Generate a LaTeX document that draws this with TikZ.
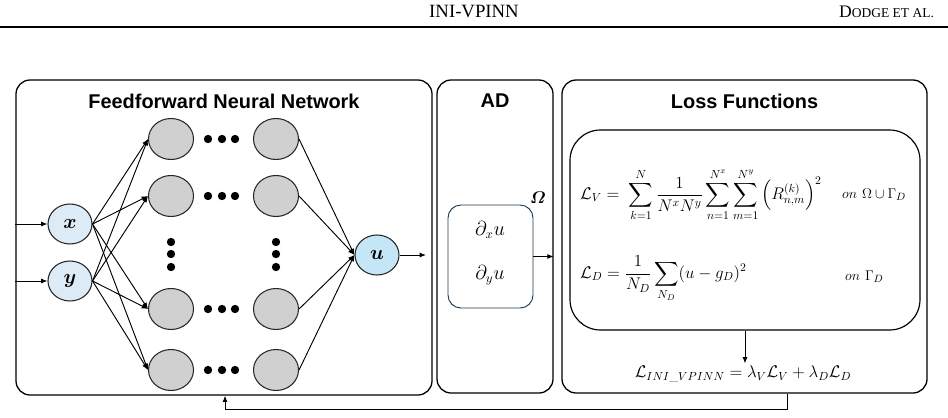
\documentclass[tikz,border=0pt]{standalone}
\usepackage{amsmath}
\usepackage{amssymb}
\usepackage{bm}
\usepackage{fontspec}
\setsansfont{Liberation Sans}
\newfontfamily\headerfont{Liberation Serif}
\usetikzlibrary{arrows.meta,positioning,shapes.geometric,fit}
\definecolor{NetGray}{HTML}{D0D0D0}
\definecolor{NetEdge}{HTML}{262626}
\definecolor{InBlue}{HTML}{DDEBF7}
\definecolor{OutBlue}{HTML}{C5E6F6}
\definecolor{ADEdge}{HTML}{1F3A4A}

\begin{document}
\begin{tikzpicture}[x=0.03cm, y=-0.03cm,
  panel/.style={draw=black, line width=1.1pt, rounded corners=12pt, inner sep=0pt},
  heading/.style={font=\sffamily\bfseries\fontsize{17}{20}\selectfont, inner sep=0pt},
  neuron/.style={ellipse, draw=NetEdge, line width=0.9pt, fill=NetGray,
                 minimum width=1.35cm, minimum height=1.23cm, inner sep=0pt},
  io/.style={ellipse, draw=NetEdge, line width=0.9pt,
             minimum width=1.32cm, minimum height=1.2cm, inner sep=0pt,
             font=\fontsize{17}{20}\selectfont},
  link/.style={-{Latex[length=1.9mm,width=1.5mm]}, line width=0.8pt, draw=black},
  eq/.style={font=\fontsize{14.5}{17}\selectfont, inner sep=0pt},
  where/.style={font=\fontsize{13}{15}\selectfont, inner sep=0pt, anchor=west}
]
\useasboundingbox (0,0) rectangle (948,417);

% running head
\node[font=\headerfont\fontsize{16}{19}\selectfont] (runhead) at (474,12) {INI-VPINN};
\node[anchor=east, font=\headerfont\fontsize{15}{18}\selectfont] (authors) at (938,12)
  {D{\fontsize{11.5}{14}\selectfont ODGE ET AL.}};
\draw[line width=0.9pt] (0,27) -- (948,27);

% panels
\node[panel, fit={(16,80) (432,395)}] (ffnn) {};
\node[panel, fit={(437,80) (553,393)}] (ad) {};
\node[panel, fit={(562,80) (927,393)}] (loss) {};
\node[heading, below=12pt of ffnn.north] (ffnnlabel) {Feedforward Neural Network};
\node[heading, below=12pt of ad.north] (adlabel) {AD};
\node[heading, below=12pt of loss.north] (losslabel) {Loss Functions};

% network
\node[io, fill=InBlue] (x) at (70,224) {$\bm{x}$};
\node[io, fill=InBlue] (y) at (70,281) {$\bm{y}$};
\node[io, fill=OutBlue] (u) at (377,255) {$\bm{u}$};
\node[neuron] (h11) at (171,139) {};
\node[neuron] (h12) at (171,196) {};
\node[neuron] (h13) at (171,309) {};
\node[neuron] (h14) at (171,370) {};
\node[neuron] (h21) at (276,139) {};
\node[neuron] (h22) at (276,196) {};
\node[neuron] (h23) at (276,309) {};
\node[neuron] (h24) at (276,370) {};

\foreach \row in {139,196,309,370}
  \foreach \dx in {208,222,235}
    \fill (\dx,\row) circle[radius=1.25mm];
\foreach \col in {171,276}
  \foreach \dy in {242,254,267}
    \fill (\col,\dy) circle[radius=1.25mm];

\draw[link] (ffnn.west |- x) -- (x);
\draw[link] (ffnn.west |- y) -- (y);
\draw[link] (x.east) -- (h11.west);
\draw[link] (x.east) -- (h12.west);
\draw[link] (x.east) -- (h13.west);
\draw[link] (x.east) -- (h14.west);
\draw[link] (y.east) -- (h11.west);
\draw[link] (y.east) -- (h12.west);
\draw[link] (y.east) -- (h13.west);
\draw[link] (y.east) -- (h14.west);
\draw[link] (h21.east) -- (u.west);
\draw[link] (h22.east) -- (u.west);
\draw[link] (h23.east) -- (u.west);
\draw[link] (h24.east) -- (u.west);
\coordinate (uout) at (426,255);
\draw[link] (u) -- (uout);

% automatic differentiation
\node[draw=ADEdge, line width=0.8pt, rounded corners=11pt, inner sep=0pt,
      fit={(448,205) (533,308)}] (adin) {};
\node[eq, font=\fontsize{16}{19}\selectfont] (dxu) at (490,230) {$\partial_x u$};
\node[eq, font=\fontsize{16}{19}\selectfont] (dyu) at (490,275) {$\partial_y u$};
\node[eq, font=\fontsize{15}{18}\selectfont] (omega) at (538,198) {$\bm{\varOmega}$};
\draw[link] (adin.east) -- (adin.east -| ad.east);

% losses
\node[draw=black, line width=1pt, rounded corners=26pt, inner sep=0pt,
      fit={(570,130) (920,330)}] (lossin) {};
\node[eq, anchor=west] (lv) at (580,195)
  {$\displaystyle \mathcal{L}_V =\; \sum_{k=1}^{N}\frac{1}{N^xN^y}\sum_{n=1}^{N^x}\sum_{m=1}^{N^y}\left(R_{n,m}^{(k)}\right)^2$};
\node[where] (lvon) at (842,195) {$on\ \Omega\cup\Gamma_D$};
\node[eq, anchor=west] (ld) at (580,279)
  {$\displaystyle \mathcal{L}_D = \frac{1}{N_D}\sum_{N_D}(u-g_D)^2$};
\node[where] (ldon) at (845,277) {$on\ \Gamma_D$};
\node[eq] (total) at (743,374)
  {$\mathcal{L}_{INI\_VPINN} = \lambda_V\mathcal{L}_V + \lambda_D\mathcal{L}_D$};
\draw[link] (lossin.south -| 745,0) -- ([yshift=2pt]total.north -| 745,0);

% feedback
\coordinate (fbturn) at (787,409);
\coordinate (fbback) at (225,409);
\draw[link] (loss.south -| fbturn) -- (fbturn) -- (fbback) -- (ffnn.south -| fbback);
\end{tikzpicture}
\end{document}
